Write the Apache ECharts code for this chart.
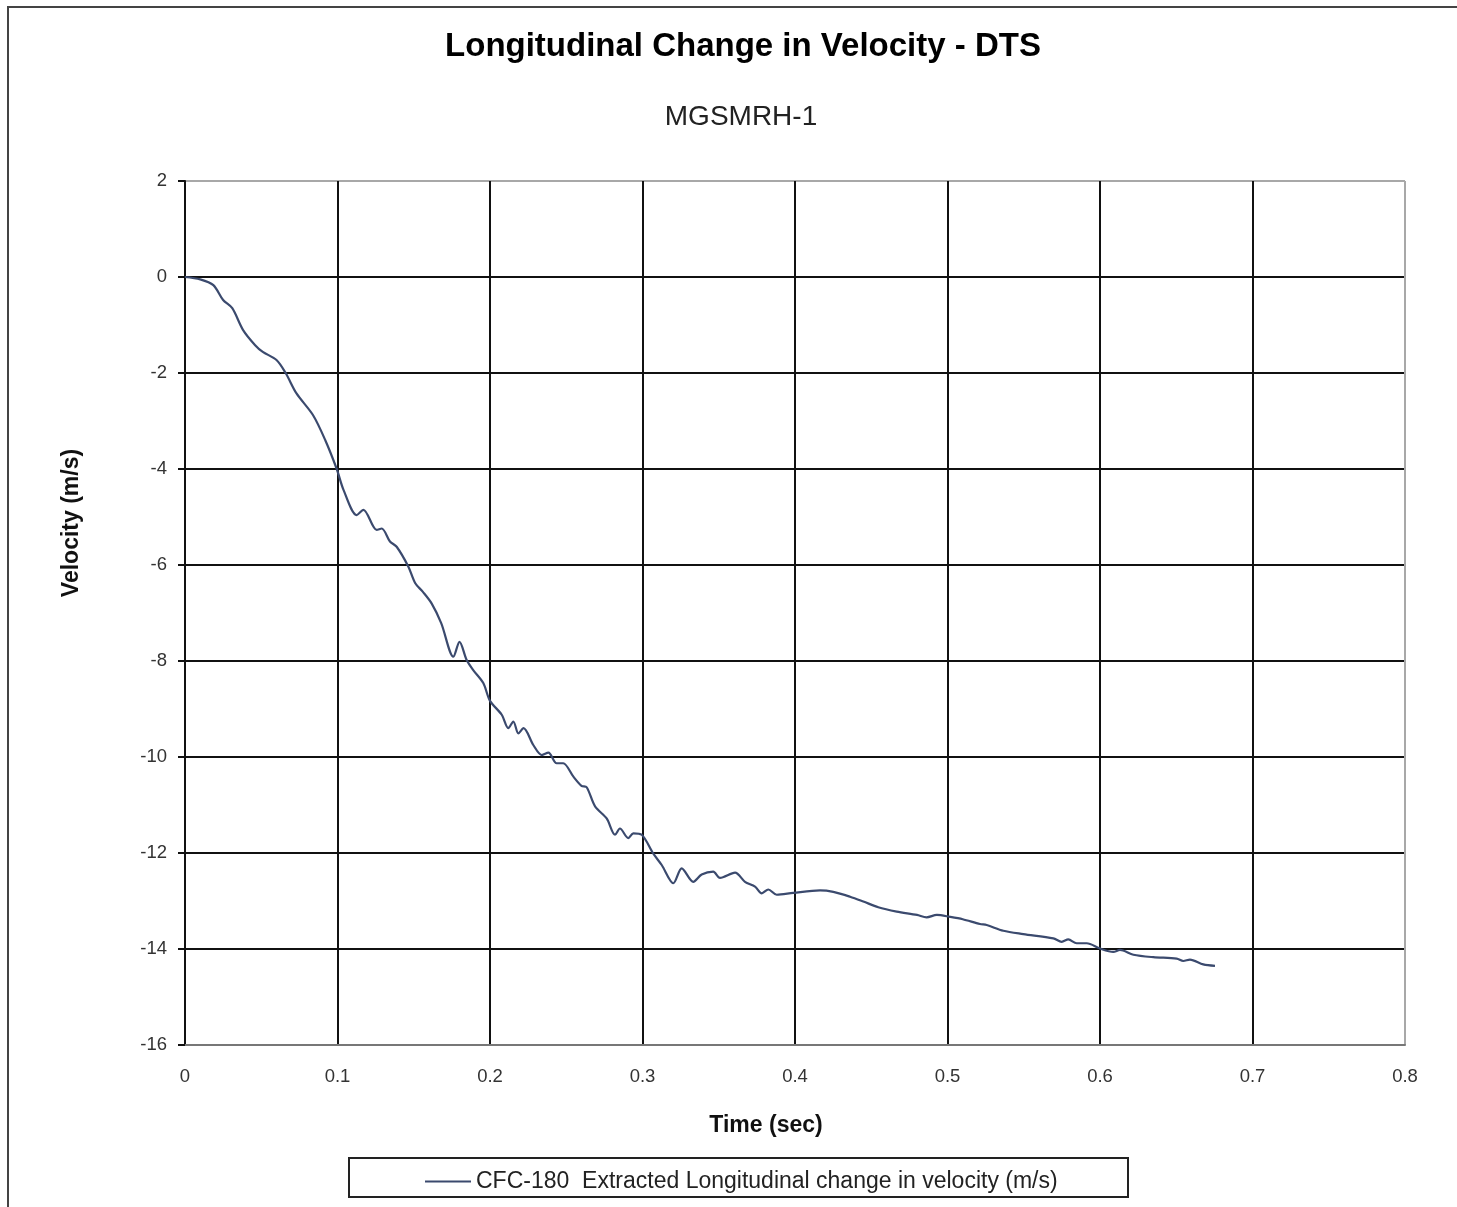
<!DOCTYPE html>
<html>
<head>
<meta charset="utf-8">
<script src="https://cdn.jsdelivr.net/npm/echarts@6/dist/echarts.min.js"></script>
<style>html,body{margin:0;padding:0;background:#fff;}#c{width:1457px;height:1207px;}</style>
</head>
<body>
<div id="c"></div>
<script>
const titleText = "Longitudinal Change in Velocity - DTS";
const subtitleText = "MGSMRH-1";
const xAxisName = "Time (sec)";
const yAxisName = "Velocity (m/s)";
const seriesName = "CFC-180  Extracted Longitudinal change in velocity (m/s)";

const timeSec = [0.000,0.010,0.0186,0.025,0.031,0.038,0.046,0.051,0.060,0.066,0.073,0.084,0.092,0.0995,0.104,0.1126,0.117,0.1257,0.129,0.1344,0.1388,0.1464,0.151,0.156,0.1617,0.168,0.176,0.180,0.1847,0.189,0.1956,0.200,0.2077,0.212,0.2153,0.2186,0.222,0.2284,0.234,0.2383,0.2437,0.248,0.2547,0.260,0.2634,0.2689,0.2765,0.282,0.2852,0.2907,0.294,0.2995,0.307,0.3126,0.3202,0.3257,0.3333,0.3388,0.3464,0.3508,0.3607,0.3672,0.3738,0.3782,0.3825,0.388,0.3989,0.4164,0.4251,0.4361,0.4448,0.4546,0.4667,0.480,0.4863,0.493,0.5016,0.510,0.5213,0.5257,0.5366,0.5497,0.5694,0.5749,0.5792,0.5847,0.5913,0.600,0.6087,0.6131,0.6219,0.635,0.6503,0.6546,0.659,0.6677,0.6754];
const velocity = [0.00,-0.05,-0.17,-0.48,-0.65,-1.10,-1.42,-1.56,-1.73,-2.00,-2.42,-2.88,-3.40,-4.00,-4.44,-4.96,-4.85,-5.27,-5.24,-5.51,-5.62,-6.03,-6.38,-6.56,-6.80,-7.21,-7.91,-7.60,-7.98,-8.19,-8.46,-8.83,-9.12,-9.40,-9.26,-9.51,-9.40,-9.75,-9.96,-9.91,-10.13,-10.13,-10.41,-10.60,-10.63,-11.03,-11.28,-11.62,-11.49,-11.69,-11.59,-11.62,-12.01,-12.25,-12.63,-12.32,-12.60,-12.45,-12.39,-12.52,-12.41,-12.60,-12.70,-12.84,-12.76,-12.87,-12.83,-12.78,-12.81,-12.91,-13.01,-13.13,-13.22,-13.29,-13.34,-13.29,-13.33,-13.38,-13.48,-13.50,-13.62,-13.69,-13.78,-13.85,-13.80,-13.88,-13.88,-13.99,-14.06,-14.02,-14.12,-14.17,-14.20,-14.25,-14.22,-14.32,-14.35];

const data = timeSec.map((t, i) => [t, velocity[i]]);
const chart = echarts.init(document.getElementById('c'), null, {renderer: 'canvas'});
const font = '"Liberation Sans", Arial, sans-serif';
const G = '#111', B = '#a8a8a8';
chart.setOption({
  animation: false,
  backgroundColor: '#ffffff',
  title: [
    {text: titleText, left: 738, top: 25, textAlign: 'center',
     textStyle: {fontFamily: font, fontSize: 33, fontWeight: 'bold', color: '#000'}},
    {text: subtitleText, left: 736, top: 98, textAlign: 'center',
     textStyle: {fontFamily: font, fontSize: 28, fontWeight: 'normal', color: '#222'}}
  ],
  grid: {left: 185, right: 52, top: 181, bottom: 162, show: false},
  xAxis: {
    type: 'value', min: 0, max: 0.8, interval: 0.1,
    axisLine: {show: true, onZero: false, lineStyle: {color: '#777', width: 2}},
    axisTick: {show: false},
    axisLabel: {fontFamily: font, fontSize: 18.5, color: '#333', margin: 22,
      formatter: v => (Math.round(v * 10) / 10).toString()},
    splitLine: {show: true, lineStyle: {color: [G, G, G, G, G, G, G, G, B], width: 2}}
  },
  yAxis: {
    type: 'value', min: -16, max: 2, interval: 2,
    axisLine: {show: true, onZero: false, lineStyle: {color: '#111', width: 2}},
    axisTick: {show: true, inside: false, length: 7, lineStyle: {color: '#111', width: 2}},
    axisLabel: {fontFamily: font, fontSize: 18.5, color: '#333', margin: 18},
    splitLine: {show: true, lineStyle: {color: ['#777', G, G, G, G, G, G, G, G, B], width: 2}}
  },
  legend: {
    show: true, left: 420, top: 1165, itemWidth: 46, itemHeight: 12, itemGap: 4,
    textStyle: {fontFamily: font, fontSize: 23, color: '#222'},
    data: [{name: seriesName, icon: 'path://M0,0 L46,0 L46,2 L0,2 Z'}]
  },
  graphic: [
    {type: 'rect', shape: {x: 8, y: 7, width: 1470, height: 1220}, style: {fill: 'none', stroke: '#444', lineWidth: 2}, z: 100},
    {type: 'rect', shape: {x: 349, y: 1158, width: 779, height: 39}, style: {fill: 'none', stroke: '#222', lineWidth: 2}, z: 100},
    {type: 'text', x: 766, y: 1126, style: {text: xAxisName, font: 'bold 23px "Liberation Sans", Arial, sans-serif', fill: '#111', textAlign: 'center', textVerticalAlign: 'middle'}},
    {type: 'text', x: 72, y: 523, rotation: Math.PI / 2, style: {text: yAxisName, font: 'bold 23px "Liberation Sans", Arial, sans-serif', fill: '#111', textAlign: 'center', textVerticalAlign: 'middle'}}
  ],
  series: [{
    name: seriesName, type: 'line', data: data, showSymbol: false, symbol: 'none', smooth: 0.3,
    lineStyle: {color: '#3b4a6e', width: 2.2}, itemStyle: {color: '#3b4a6e'}, z: 5
  }]
});
</script>
</body>
</html>
